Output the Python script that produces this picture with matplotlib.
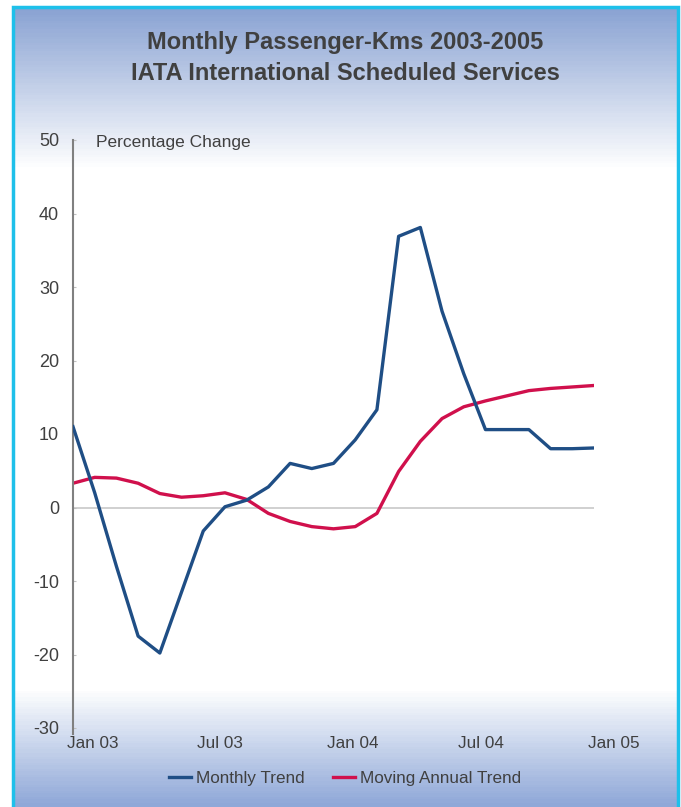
import numpy as np
import matplotlib
matplotlib.use("Agg")
import matplotlib.pyplot as plt
import matplotlib.transforms as mtransforms
from matplotlib.colors import LinearSegmentedColormap
from matplotlib.patches import Rectangle

plt.rcParams['font.family'] = ['Liberation Sans', 'DejaVu Sans']

# monthly data, Jan 03 .. Jan 05
months = list(range(25))
monthly_trend = [11.0, 2.0, -8.0, -17.5, -19.8, -11.5, -3.2, 0.1, 1.0, 2.8, 6.0, 5.3, 6.0,
                 9.2, 13.3, 36.9, 38.1, 26.7, 18.2, 10.6, 10.6, 10.6, 8.0, 8.0, 8.1]
moving_annual = [3.3, 4.1, 4.0, 3.3, 1.9, 1.4, 1.6, 2.0, 1.1, -0.8, -1.9, -2.6, -2.9,
                 -2.6, -0.8, 4.9, 9.0, 12.1, 13.7, 14.5, 15.2, 15.9, 16.2, 16.4, 16.6]
tick_pos = [0, 6, 12, 18, 24]
tick_labels = ['Jan 03', 'Jul 03', 'Jan 04', 'Jul 04', 'Jan 05']
y_ticks = [50, 40, 30, 20, 10, 0, -10, -20, -30]

W, H = 681, 807
fig = plt.figure(figsize=(W / 100, H / 100), dpi=100)

# background gradient box with cyan border
bg = fig.add_axes([13 / W, 0, (678 - 13) / W, (807 - 7) / H])
bg.set_axis_off()
cmap = LinearSegmentedColormap.from_list('bg', [
    (0.0, '#8aa3d3'), (0.20, '#ffffff'), (0.855, '#ffffff'), (1.0, '#8fa8d8')])
grad = np.linspace(0, 1, 400).reshape(-1, 1)
bg.imshow(grad, aspect='auto', cmap=cmap, extent=[0, 1, 0, 1], origin='upper')
bg.set_xlim(0, 1)
bg.set_ylim(0, 1)
bg.add_patch(Rectangle((0, -0.1), 1, 1.1, fill=False, edgecolor='#1ec0ea', lw=2.5,
                       transform=bg.transAxes, clip_on=False))

title_font = ['Liberation Sans Narrow', 'Liberation Sans']
fig.text(345 / W, 1 - 42 / H, 'Monthly Passenger-Kms 2003-2005',
         ha='center', va='center', fontsize=17, fontweight='bold', color='#404040',
         family=title_font)
fig.text(345 / W, 1 - 74 / H, 'IATA International Scheduled Services',
         ha='center', va='center', fontsize=17, fontweight='bold', color='#404040',
         family=title_font)

ax = fig.add_axes([73 / W, 1 - 728 / H, (594 - 73) / W, (728 - 140) / H])
ax.patch.set_alpha(0)
ax.axhline(0, color='#c8c8c8', lw=1.2, zorder=1)
l1, = ax.plot(months, monthly_trend, color='#1f4e85', lw=2.4, label='Monthly Trend', zorder=3)
l2, = ax.plot(months, moving_annual, color='#d0104c', lw=2.4, label='Moving Annual Trend', zorder=2)

ax.set_xlim(0, 24)
ax.set_ylim(-30, 50)
for s in ['top', 'right', 'bottom']:
    ax.spines[s].set_visible(False)
ax.spines['left'].set_color('#808080')
ax.spines['left'].set_linewidth(1.5)
ax.spines['left'].set_bounds(-30.8, 50)
ax.set_yticks(y_ticks)
ax.set_yticklabels([str(v) for v in y_ticks])
ax.tick_params(axis='y', direction='in', length=2, color='#c0c0c0', labelsize=13,
               labelcolor='#404040', pad=10)
ax.set_xticks(tick_pos)
ax.set_xticklabels(tick_labels, ha='left')
ax.tick_params(axis='x', length=0, labelsize=12.3, labelcolor='#404040', pad=6)
offset = mtransforms.ScaledTranslation(-6 / 100, 0, fig.dpi_scale_trans)
for lab in ax.get_xticklabels():
    lab.set_transform(lab.get_transform() + offset)

ax.text(96 / W, 1 - 142 / H, 'Percentage Change', transform=fig.transFigure,
        ha='left', va='center', fontsize=12.5, color='#404040')

fig.legend(handles=[l1, l2], loc='center', bbox_to_anchor=(345 / W, 1 - 778 / H),
           ncol=2, frameon=False, fontsize=12.3, handlelength=1.3, handletextpad=0.25,
           columnspacing=1.7, labelcolor='#404040')

fig.savefig('out.png', dpi=100)
